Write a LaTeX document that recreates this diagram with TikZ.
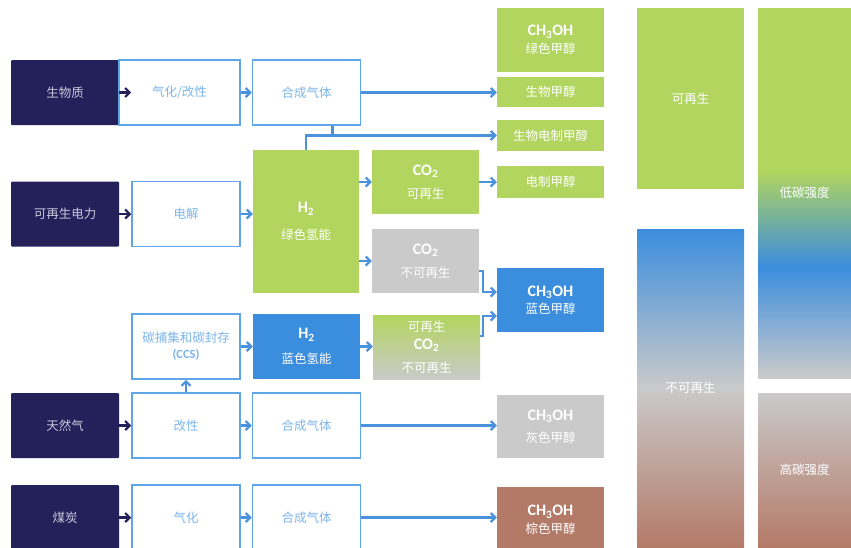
\documentclass[tikz,border=0pt]{standalone}
\usepackage{fontspec}
\setmainfont{Noto Sans CJK SC}
\newfontfamily\carl{Carlito}
\usetikzlibrary{arrows.meta}

\definecolor{navy}{HTML}{23205A}
\definecolor{srctext}{HTML}{C9C8DC}
\definecolor{lineblue}{HTML}{5EA6E8}
\definecolor{txtblue}{HTML}{7DB6EC}
\definecolor{arrblue}{HTML}{4A92DC}
\definecolor{cgreen}{HTML}{B1D55E}
\definecolor{cblue}{HTML}{3B8DDE}
\definecolor{cgray}{HTML}{CACACA}
\definecolor{cbrown}{HTML}{B47A68}

% green on top, blue band, grey at the bottom
\pgfdeclareverticalshading{lowcarbon}{100bp}{color(0bp)=(cgray); color(25bp)=(cgray); color(40bp)=(cblue); color(53bp)=(cgreen); color(100bp)=(cgreen)}

\newcommand{\molec}[1]{{\carl\bfseries\fontsize{16}{18}\selectfont #1}}

\tikzset{
  box/.style={minimum width=108pt, minimum height=65pt, inner sep=0pt, align=center,
    font=\fontsize{12.5}{15}\selectfont},
  srcbox/.style={box, fill=navy, text=srctext, rounded corners=1pt},
  procbox/.style={box, draw=lineblue, line width=1.5pt, fill=white, text=txtblue},
  prodbox/.style={box, minimum width=107pt, text=white},
  greenbox/.style={prodbox, fill=cgreen},
  bluebox/.style={prodbox, fill=cblue},
  graybox/.style={prodbox, fill=cgray},
  brownbox/.style={prodbox, fill=cbrown},
  arr/.style={draw=arrblue, line width=2.2pt, -{Straight Barb[length=4.5pt,width=9pt]}},
  darr/.style={arr, draw=navy},
  link/.style={draw=arrblue, line width=2.2pt},
}

\begin{document}
\begin{tikzpicture}[x=1pt, y=-1pt]
    \fill[white] (0,0) rectangle (851,547);
    \useasboundingbox (0,0) rectangle (851,547);

    % sources
    \node[srcbox] (bio) at (65,92.5) {生物质};
    \node[srcbox] (renew) at (65,214) {可再生电力};
    \node[srcbox] (gas) at (65,425.5) {天然气};
    \node[srcbox] (coal) at (65,517.5) {煤炭};

    % processes
    \node[procbox, minimum width=121pt] (gasref) at (179.5,92.5) {气化/改性};
    \node[procbox] (syn1) at (306.5,92.5) {合成气体};
    \node[procbox] (elys) at (186,214) {电解};
    \node[procbox] (ccs) at (186,346.5) {碳捕集和碳封存\\[1pt]{\carl\bfseries (CCS)}};
    \node[procbox] (refm) at (186,425.5) {改性};
    \node[procbox] (syn2) at (306.5,425.5) {合成气体};
    \node[procbox] (coalgas) at (186,517.5) {气化};
    \node[procbox] (syn3) at (306.5,517.5) {合成气体};

    % hydrogen and CO2
    \node[greenbox, minimum width=106pt, minimum height=143pt] (h2g) at (306,221.5) {\molec{H\textsubscript{2}}\\[12pt]绿色氢能};
    \node[bluebox, minimum height=65pt] (h2b) at (306.5,346.5) {\molec{H\textsubscript{2}}\\[10pt]蓝色氢能};
    \node[greenbox, minimum height=64pt] (co2r) at (425.5,182) {\molec{CO\textsubscript{2}}\\[8pt]可再生};
    \node[graybox, minimum height=64pt] (co2n) at (425.5,261) {\molec{CO\textsubscript{2}}\\[8pt]不可再生};
    \node[prodbox, top color=cgreen, bottom color=cgray, minimum height=64pt] (co2m) at (426.5,347) {可再生\\[3pt]\molec{CO\textsubscript{2}}\\[8pt]不可再生};

    % methanol
    \node[greenbox, minimum height=64pt] (gmeoh) at (550.5,40) {\molec{CH\textsubscript{3}OH}\\[3pt]绿色甲醇};
    \node[greenbox, minimum height=30pt] (biomeoh) at (550.5,92) {生物甲醇};
    \node[greenbox, minimum height=31pt] (bioemeoh) at (550.5,135.5) {生物电制甲醇};
    \node[greenbox, minimum height=32pt] (emeoh) at (550.5,182) {电制甲醇};
    \node[bluebox, minimum height=64pt] (bmeoh) at (550.5,300) {\molec{CH\textsubscript{3}OH}\\[2pt]蓝色甲醇};
    \node[graybox, minimum height=63pt] (greymeoh) at (550.5,426.5) {\molec{CH\textsubscript{3}OH}\\[7pt]灰色甲醇};
    \node[brownbox, minimum height=66pt] (brmeoh) at (550.5,520) {\molec{CH\textsubscript{3}OH}\\[3pt]棕色甲醇};

    % right-hand bars
    \node[prodbox, fill=cgreen, minimum height=181pt] (rbar) at (690.5,98.5) {可再生};
    \node[prodbox, top color=cblue, bottom color=cbrown, middle color=cgray, minimum height=318pt] (nrbar) at (690.5,388) {不可再生};
    \node[prodbox, shading=lowcarbon, minimum width=93pt, minimum height=370pt] (lowc) at (804.5,193) {低碳强度};
    \node[prodbox, top color=cgray, bottom color=cbrown, minimum width=93pt, minimum height=154pt] (highc) at (804.5,470) {高碳强度};

    % source arrows
    \draw[darr] (bio.east) -- ++(12,0);
    \draw[darr] (renew.east) -- (renew.east -| elys.west);
    \draw[darr] (gas.east) -- (refm.west);
    \draw[darr] (coal.east) -- (coalgas.west);

    % process chain
    \draw[arr] (gasref.east) -- (syn1.west);
    \draw[arr] (syn1.east) -- (syn1.east -| biomeoh.west);
    \draw[arr] ([xshift=26pt]syn1.south) |- (bioemeoh.west);
    \draw[link] (h2g.north) |- ([xshift=26pt]syn1.south |- bioemeoh.west);
    \draw[arr] (elys.east) -- (elys.east -| h2g.west);
    \draw[arr] (co2r.west -| h2g.east) -- (co2r.west);
    \draw[arr] (co2r.east) -- (emeoh.west);
    \draw[arr] (co2n.west -| h2g.east) -- (co2n.west);
    \draw[arr] ([yshift=-10pt]co2n.east) -- ++(4,0) |- ([yshift=8pt]bmeoh.west);
    \draw[arr] ([yshift=11pt]co2m.east) -- ++(3,0) |- ([yshift=-16pt]bmeoh.west);
    \draw[arr] (ccs.east) -- (h2b.west);
    \draw[arr] (h2b.east) -- (h2b.east -| co2m.west);
    \draw[arr] (refm.north) -- (ccs.south);
    \draw[arr] (refm.east) -- (syn2.west);
    \draw[arr] (syn2.east) -- (syn2.east -| greymeoh.west);
    \draw[arr] (coalgas.east) -- (syn3.west);
    \draw[arr] (syn3.east) -- (syn3.east -| brmeoh.west);
\end{tikzpicture}
\end{document}
